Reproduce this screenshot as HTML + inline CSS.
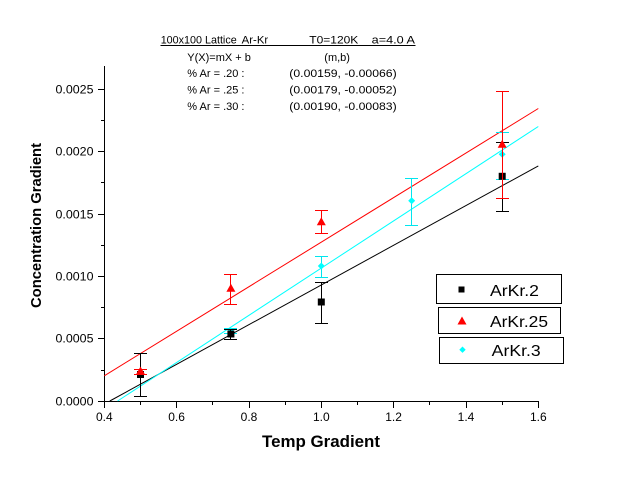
<!DOCTYPE html>
<html><head><meta charset="utf-8"><style>
html,body{margin:0;padding:0;background:#fff;}
svg{display:block;}
text{font-family:"Liberation Sans",Arial,sans-serif;fill:#000;}
</style></head><body>
<svg width="620" height="480" viewBox="0 0 620 480" xmlns="http://www.w3.org/2000/svg">
<rect width="620" height="480" fill="#fff"/>

<!-- header text -->
<g font-size="11">
<text x="160.7" y="43.3" textLength="76" lengthAdjust="spacingAndGlyphs">100x100 Lattice</text>
<text x="241.7" y="43.3" textLength="26.5" lengthAdjust="spacingAndGlyphs">Ar-Kr</text>
<text x="309.3" y="43.3" textLength="49" lengthAdjust="spacingAndGlyphs">T0=120K</text>
<text x="371.7" y="43.3" textLength="43.3" lengthAdjust="spacingAndGlyphs">a=4.0 A</text>
<line x1="160.5" y1="45.5" x2="415.5" y2="45.5" stroke="#000" stroke-width="1" shape-rendering="crispEdges"/>
<text x="187.3" y="61">Y(X)=mX + b</text>
<text x="324.3" y="61">(m,b)</text>
<text x="187.3" y="77">% Ar = .20 :</text>
<text x="289.3" y="77" textLength="107.4" lengthAdjust="spacingAndGlyphs">(0.00159, -0.00066)</text>
<text x="187.3" y="93.5">% Ar = .25 :</text>
<text x="289.3" y="93.5" textLength="107.4" lengthAdjust="spacingAndGlyphs">(0.00179, -0.00052)</text>
<text x="187.3" y="110">% Ar = .30 :</text>
<text x="289.3" y="110" textLength="107.4" lengthAdjust="spacingAndGlyphs">(0.00190, -0.00083)</text>
</g>

<!-- axes -->
<g stroke="#000" stroke-width="1" shape-rendering="crispEdges">
<line x1="104.5" y1="66" x2="104.5" y2="402"/>
<line x1="104" y1="401.5" x2="539" y2="401.5"/>
<!-- y major ticks -->
<line x1="98" y1="401.5" x2="104" y2="401.5"/>
<line x1="98" y1="338.5" x2="104" y2="338.5"/>
<line x1="98" y1="276.5" x2="104" y2="276.5"/>
<line x1="98" y1="214.5" x2="104" y2="214.5"/>
<line x1="98" y1="151.5" x2="104" y2="151.5"/>
<line x1="98" y1="89.5" x2="104" y2="89.5"/>
<!-- y minor ticks -->
<line x1="101" y1="370.5" x2="104" y2="370.5"/>
<line x1="101" y1="307.5" x2="104" y2="307.5"/>
<line x1="101" y1="245.5" x2="104" y2="245.5"/>
<line x1="101" y1="182.5" x2="104" y2="182.5"/>
<line x1="101" y1="120.5" x2="104" y2="120.5"/>
<!-- x major ticks -->
<line x1="104.5" y1="401" x2="104.5" y2="408"/>
<line x1="176.5" y1="401" x2="176.5" y2="408"/>
<line x1="249.5" y1="401" x2="249.5" y2="408"/>
<line x1="321.5" y1="401" x2="321.5" y2="408"/>
<line x1="393.5" y1="401" x2="393.5" y2="408"/>
<line x1="466.5" y1="401" x2="466.5" y2="408"/>
<line x1="538.5" y1="401" x2="538.5" y2="408"/>
<!-- x minor ticks -->
<line x1="140.5" y1="401" x2="140.5" y2="405"/>
<line x1="212.5" y1="401" x2="212.5" y2="405"/>
<line x1="285.5" y1="401" x2="285.5" y2="405"/>
<line x1="357.5" y1="401" x2="357.5" y2="405"/>
<line x1="429.5" y1="401" x2="429.5" y2="405"/>
<line x1="502.5" y1="401" x2="502.5" y2="405"/>
</g>

<!-- y tick labels -->
<g font-size="12" text-anchor="end">
<text x="93.5" y="405.5" textLength="38" lengthAdjust="spacingAndGlyphs">0.0000</text>
<text x="93.5" y="342.5" textLength="38" lengthAdjust="spacingAndGlyphs">0.0005</text>
<text x="93.5" y="280.5" textLength="38" lengthAdjust="spacingAndGlyphs">0.0010</text>
<text x="93.5" y="218.5" textLength="38" lengthAdjust="spacingAndGlyphs">0.0015</text>
<text x="93.5" y="155.5" textLength="38" lengthAdjust="spacingAndGlyphs">0.0020</text>
<text x="93.5" y="93.5" textLength="38" lengthAdjust="spacingAndGlyphs">0.0025</text>
</g>
<!-- x tick labels -->
<g font-size="12" text-anchor="middle">
<text x="104.3" y="421">0.4</text>
<text x="176.6" y="421">0.6</text>
<text x="249" y="421">0.8</text>
<text x="321.3" y="421">1.0</text>
<text x="393.6" y="421">1.2</text>
<text x="466" y="421">1.4</text>
<text x="538.3" y="421">1.6</text>
</g>

<!-- axis titles -->
<text x="321" y="447" font-size="17" font-weight="bold" text-anchor="middle" textLength="118" lengthAdjust="spacingAndGlyphs">Temp Gradient</text>
<text transform="translate(41,225.5) rotate(-90)" font-size="15" font-weight="bold" text-anchor="middle" textLength="165" lengthAdjust="spacingAndGlyphs">Concentration Gradient</text>

<!-- fit lines -->
<line x1="109.8" y1="401" x2="538.3" y2="165.9" stroke="#000" stroke-width="1"/>
<line x1="117.6" y1="401" x2="538.3" y2="126.5" stroke="#00ffff" stroke-width="1"/>
<line x1="104.3" y1="375.8" x2="538.3" y2="108.5" stroke="#ff0000" stroke-width="1"/>

<!-- cyan series -->
<g stroke="#00e5ee" stroke-width="1" shape-rendering="crispEdges" fill="none">
<path d="M230.5 328.5V333.5 M224 328.5H237 M224 333.5H237"/>
<path d="M321.5 256.5V277.5 M315 256.5H328 M315 277.5H328"/>
<path d="M411.5 178.5V225.5 M405 178.5H418 M405 225.5H418"/>
<path d="M502.5 132.5V179.5 M496 132.5H509 M496 179.5H509"/>
</g>
<g fill="#00ffff">
<path d="M230.9 327.5 l3.5 3.5 l-3.5 3.5 l-3.5 -3.5z"/>
<path d="M321.3 262.5 l3.5 3.5 l-3.5 3.5 l-3.5 -3.5z"/>
<path d="M411.7 197.2 l3.5 3.5 l-3.5 3.5 l-3.5 -3.5z"/>
<path d="M502.2 150.8 l3.5 3.5 l-3.5 3.5 l-3.5 -3.5z"/>
</g>

<!-- black series -->
<g stroke="#000" stroke-width="1" shape-rendering="crispEdges" fill="none">
<path d="M140.5 353.5V396.5 M134 353.5H147 M134 396.5H147"/>
<path d="M230.5 329.5V339.5 M224 329.5H237 M224 339.5H237"/>
<path d="M321.5 282.5V323.5 M315 282.5H328 M315 323.5H328"/>
<path d="M502.5 142.5V211.5 M496 142.5H509 M496 211.5H509"/>
</g>
<g fill="#000">
<rect x="137" y="371" width="7" height="7"/>
<rect x="227.4" y="330.5" width="7" height="7"/>
<rect x="317.8" y="298.5" width="7" height="7"/>
<rect x="498.7" y="172.8" width="7" height="7"/>
</g>

<!-- red series -->
<g stroke="#ff0000" stroke-width="1" shape-rendering="crispEdges" fill="none">
<path d="M140.5 369.5V374.5 M134 369.5H147 M134 374.5H147"/>
<path d="M230.5 274.5V304.5 M224 274.5H237 M224 304.5H237"/>
<path d="M321.5 210.5V233.5 M315 210.5H328 M315 233.5H328"/>
<path d="M502.5 91.5V198.5 M496 91.5H509 M496 198.5H509"/>
</g>
<g fill="#ff0000">
<path d="M140.5 366.5 l4.5 8 h-9z"/>
<path d="M230.9 283.8 l4.5 8 h-9z"/>
<path d="M321.3 217.2 l4.5 8 h-9z"/>
<path d="M502.2 139.8 l4.5 8 h-9z"/>
</g>

<!-- legend -->
<g stroke="#000" stroke-width="1" fill="#fff" shape-rendering="crispEdges">
<rect x="436.5" y="274.5" width="125" height="29"/>
<rect x="438.5" y="307.5" width="122" height="26"/>
<rect x="439.5" y="337.5" width="124" height="26"/>
</g>
<rect x="458.5" y="286.5" width="6" height="6" fill="#000"/>
<path d="M462 316.5 l4.5 8 h-9z" fill="#ff0000"/>
<path d="M462.5 346.5 l3.2 3.2 l-3.2 3.2 l-3.2 -3.2z" fill="#00ffff"/>
<g font-size="16">
<text x="490" y="296" textLength="49" lengthAdjust="spacingAndGlyphs">ArKr.2</text>
<text x="490" y="327" textLength="58" lengthAdjust="spacingAndGlyphs">ArKr.25</text>
<text x="491.7" y="356" textLength="49" lengthAdjust="spacingAndGlyphs">ArKr.3</text>
</g>
</svg>
</body></html>
